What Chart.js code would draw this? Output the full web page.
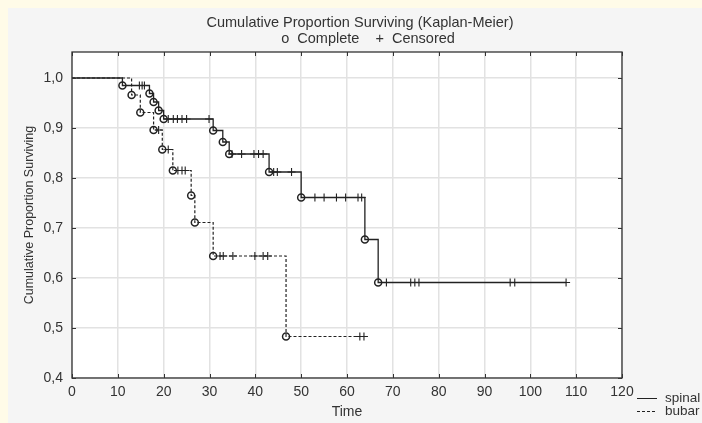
<!DOCTYPE html>
<html><head><meta charset="utf-8">
<script src="https://cdn.jsdelivr.net/npm/chart.js@4.4.1/dist/chart.umd.min.js"></script>
<style>
html,body{margin:0;padding:0;width:702px;height:423px;overflow:hidden;background:#fffbe8;}
#panel{position:absolute;left:8px;top:8px;right:0;bottom:0;background:#f5f5f5;}
#wrap{position:absolute;left:0;top:0;width:702px;height:423px;}
</style></head><body>
<div id="panel"></div>
<div id="wrap"><canvas id="c" width="702" height="423"></canvas></div>
<script>
// ---- data ----
const xTicks = [0,10,20,30,40,50,60,70,80,90,100,110,120];
const yTicks = [0.4,0.5,0.6,0.7,0.8,0.9,1.0];
const yTickLabels = ['0,4','0,5','0,6','0,7','0,8','0,9','1,0'];

const spinalEventTimes = [11.0,16.9,17.8,18.9,20.0,30.8,32.9,34.3,43.0,50.0,63.9,66.8];
const spinalEventSurv  = [0.985,0.969,0.952,0.935,0.918,0.895,0.872,0.848,0.812,0.761,0.677,0.591];
const spinalCensored   = [14.7,15.3,15.8,21.0,22.1,23.0,24.0,25.0,29.9,34.9,37.0,39.7,40.7,41.7,44.0,44.8,47.9,53.0,55.0,57.7,59.7,62.4,63.2,68.6,73.9,74.8,75.7,95.6,96.6,107.8];

const bubarEventTimes = [13.0,14.9,17.8,19.7,22.0,26.0,26.8,30.8,46.7];
const bubarEventSurv  = [0.966,0.931,0.896,0.857,0.815,0.765,0.711,0.644,0.483];
const bubarCensored   = [18.9,21.0,23.1,24.0,24.7,32.3,33.0,35.1,39.9,41.7,42.7,62.8,63.7];

// ---- helpers building point lists from the arrays ----
function survAt(times, surv, t){
  let s = 1.0;
  for (let i=0;i<times.length;i++){ if (times[i] <= t) s = surv[i]; }
  return s;
}
function curve(times, surv, cens){
  const pts = [{x:0,y:1.0}];
  times.forEach((t,i)=>pts.push({x:t,y:surv[i]}));
  const last = Math.max(times[times.length-1], cens[cens.length-1]);
  pts.push({x:last,y:survAt(times,surv,last)});
  return pts;
}
const events = (times,surv)=>times.map((t,i)=>({x:t,y:surv[i]}));
const censPts = (times,surv,cens)=>cens.map(t=>({x:t,y:survAt(times,surv,t)}));

const INK = '#222';
const FONT = '"Liberation Sans", Arial, sans-serif';

const decor = {
  id:'decor',
  beforeDraw(chart){
    const {ctx, chartArea:a} = chart;
    ctx.save();
    ctx.fillStyle = '#ffffff';
    ctx.fillRect(a.left, a.top, a.right-a.left, a.bottom-a.top);
    ctx.restore();
  },
  afterDraw(chart){
    const {ctx, chartArea:a, scales} = chart;
    ctx.save();
    // frame
    ctx.strokeStyle = '#333';
    ctx.lineWidth = 1.3;
    ctx.strokeRect(a.left, a.top, a.right-a.left, a.bottom-a.top);
    // inside ticks
    ctx.lineWidth = 1;
    ctx.beginPath();
    xTicks.forEach(v=>{
      const px = Math.round(scales.x.getPixelForValue(v))+0.5;
      ctx.moveTo(px, a.bottom); ctx.lineTo(px, a.bottom-4);
      ctx.moveTo(px, a.top); ctx.lineTo(px, a.top+4);
    });
    yTicks.forEach(v=>{
      const py = Math.round(scales.y.getPixelForValue(v))+0.5;
      ctx.moveTo(a.left, py); ctx.lineTo(a.left+4, py);
      ctx.moveTo(a.right, py); ctx.lineTo(a.right-4, py);
    });
    ctx.stroke();
    // texts
    ctx.fillStyle = '#333';
    ctx.textAlign = 'center';
    ctx.textBaseline = 'middle';
    ctx.font = '14.5px ' + FONT;
    ctx.fillText('Cumulative Proportion Surviving (Kaplan-Meier)', 360, 23);
    ctx.fillText('o  Complete    +  Censored', 368, 39);
    ctx.font = '14px ' + FONT;
    ctx.fillText('Time', 347, 412);
    ctx.save();
    ctx.translate(30, 215);
    ctx.rotate(-Math.PI/2);
    ctx.font = '12.5px ' + FONT;
    ctx.fillText('Cumulative Proportion Surviving', 0, 0);
    ctx.restore();
    // series legend (bottom right)
    ctx.strokeStyle = INK;
    ctx.lineWidth = 1;
    ctx.beginPath(); ctx.moveTo(637, 398.5); ctx.lineTo(657, 398.5); ctx.stroke();
    ctx.setLineDash([3,2]);
    ctx.beginPath(); ctx.moveTo(637, 411.5); ctx.lineTo(657, 411.5); ctx.stroke();
    ctx.setLineDash([]);
    ctx.textAlign = 'left';
    ctx.font = '13.5px ' + FONT;
    ctx.fillText('spinal', 665, 398);
    ctx.fillText('bubar', 665, 411);
    ctx.restore();
  }
};

new Chart(document.getElementById('c'), {
  data: {
    datasets: [
      { type:'line', label:'spinal', data: curve(spinalEventTimes, spinalEventSurv, spinalCensored),
        stepped:'before', borderColor:INK, borderWidth:1.3, pointRadius:0, fill:false },
      { type:'line', label:'bubar', data: curve(bubarEventTimes, bubarEventSurv, bubarCensored),
        stepped:'before', borderColor:INK, borderWidth:1.2, borderDash:[3,2], pointRadius:0, fill:false },
      { type:'scatter', label:'spinal complete', data: events(spinalEventTimes, spinalEventSurv),
        pointStyle:'circle', pointRadius:3.5, borderColor:INK, borderWidth:1.5, backgroundColor:'rgba(0,0,0,0)' },
      { type:'scatter', label:'bubar complete', data: events(bubarEventTimes, bubarEventSurv),
        pointStyle:'circle', pointRadius:3.5, borderColor:INK, borderWidth:1.5, backgroundColor:'rgba(0,0,0,0)' },
      { type:'scatter', label:'spinal censored', data: censPts(spinalEventTimes, spinalEventSurv, spinalCensored),
        pointStyle:'cross', pointRadius:4, borderColor:INK, borderWidth:1.1 },
      { type:'scatter', label:'bubar censored', data: censPts(bubarEventTimes, bubarEventSurv, bubarCensored),
        pointStyle:'cross', pointRadius:4, borderColor:INK, borderWidth:1.1 }
    ]
  },
  options: {
    responsive:false, animation:false, devicePixelRatio:1,
    layout:{ padding:{ left:0, right:80, top:52, bottom:0 } },
    plugins:{ legend:{display:false}, title:{display:false}, tooltip:{enabled:false} },
    scales:{
      x:{ type:'linear', min:0, max:120,
        afterBuildTicks(s){ s.ticks = xTicks.map(v=>({value:v})); },
        afterFit(s){ s.height = 45; },
        grid:{ color:'#e2e2e2', lineWidth:1.5, drawTicks:false },
        border:{ display:false },
        ticks:{ color:'#333', font:{ size:14, family:FONT }, padding:6, maxRotation:0, autoSkip:false,
          callback:(v)=>String(v) } },
      y:{ type:'linear', min:0.4, max:1.052,
        afterBuildTicks(s){ s.ticks = yTicks.map(v=>({value:v})); },
        afterFit(s){ s.width = 72; },
        grid:{ color:'#e2e2e2', lineWidth:1.5, drawTicks:false },
        border:{ display:false },
        ticks:{ color:'#333', font:{ size:14, family:FONT }, padding:9, autoSkip:false,
          callback:(v)=>{ const i = yTicks.findIndex(t=>Math.abs(t-v)<1e-6); return i>=0 ? yTickLabels[i] : ''; } } }
    }
  },
  plugins:[decor]
});
</script>
</body></html>
